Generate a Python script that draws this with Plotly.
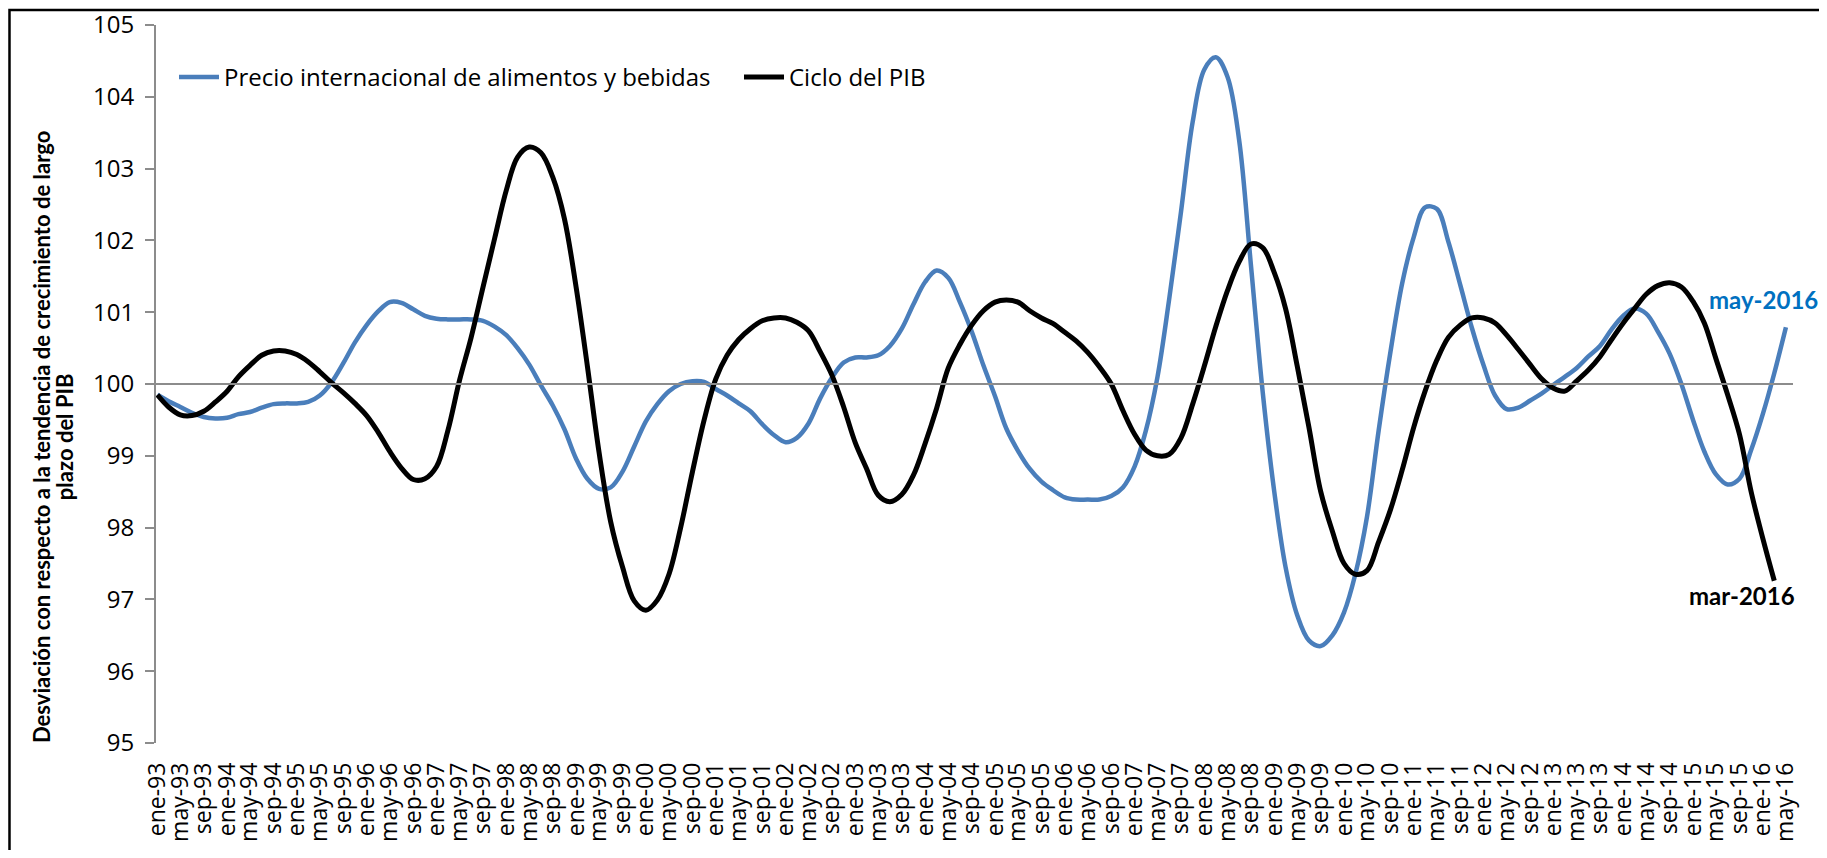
import pandas as pd
import plotly.graph_objects as go

# Fechas: una observación cada dos meses, de ene-93 a may-16
FECHAS = pd.date_range("1993-01-01", "2016-05-01", freq="2MS")

# Precio internacional de alimentos y bebidas (hasta may-2016)
PRECIO_ALIMENTOS = [
    99.85, 99.76, 99.68, 99.60, 99.54, 99.52, 99.53, 99.58, 99.61, 99.67,
    99.72, 99.73, 99.73, 99.75, 99.84, 100.02, 100.29, 100.58, 100.82, 101.01,
    101.14, 101.13, 101.04, 100.95, 100.91, 100.90, 100.90, 100.90, 100.88, 100.80,
    100.68, 100.50, 100.27, 99.98, 99.70, 99.37, 98.96, 98.68, 98.54, 98.56,
    98.78, 99.13, 99.48, 99.72, 99.90, 100.00, 100.04, 100.03, 99.93, 99.84,
    99.73, 99.62, 99.44, 99.29, 99.19, 99.25, 99.45, 99.80, 100.09, 100.30,
    100.37, 100.37, 100.40, 100.53, 100.77, 101.11, 101.42, 101.58, 101.48, 101.14,
    100.73, 100.26, 99.83, 99.38, 99.07, 98.82, 98.64, 98.52, 98.42, 98.39,
    98.39, 98.39, 98.44, 98.56, 98.85, 99.35, 100.10, 101.18, 102.40, 103.65,
    104.38, 104.55, 104.28, 103.40, 101.65, 99.90, 98.50, 97.45, 96.78, 96.43,
    96.35, 96.50, 96.82, 97.35, 98.15, 99.35, 100.45, 101.40, 102.05, 102.46,
    102.44, 101.98, 101.38, 100.78, 100.26, 99.84, 99.65, 99.67, 99.77, 99.87,
    99.99, 100.10, 100.22, 100.38, 100.53, 100.76, 100.95, 101.05, 100.98, 100.73,
    100.42, 100.00, 99.50, 99.06, 98.74, 98.60, 98.68, 99.08, 99.58, 100.15,
    100.79,
]

# Ciclo del PIB (hasta mar-2016)
CICLO_PIB = [
    99.85, 99.68, 99.57, 99.56, 99.62, 99.75, 99.90, 100.10, 100.26, 100.40,
    100.46, 100.46, 100.41, 100.31, 100.17, 100.02, 99.88, 99.73, 99.56, 99.33,
    99.06, 98.83, 98.67, 98.68, 98.85, 99.35, 100.05, 100.65, 101.35, 102.03,
    102.70, 103.16, 103.30, 103.22, 102.88, 102.30, 101.35, 100.25, 99.05, 98.08,
    97.45, 96.98, 96.85, 96.99, 97.35, 98.00, 98.78, 99.50, 100.07, 100.40,
    100.62, 100.77, 100.88, 100.92, 100.92, 100.86, 100.74, 100.45, 100.12, 99.68,
    99.18, 98.82, 98.45, 98.36, 98.46, 98.73, 99.17, 99.66, 100.22, 100.55,
    100.82, 101.02, 101.14, 101.17, 101.14, 101.02, 100.92, 100.84, 100.72, 100.60,
    100.44, 100.24, 100.00, 99.63, 99.30, 99.08, 99.00, 99.02, 99.25, 99.72,
    100.25, 100.80, 101.30, 101.70, 101.95, 101.90, 101.55, 101.05, 100.25, 99.40,
    98.50, 97.95, 97.50, 97.35, 97.40, 97.80, 98.25, 98.80, 99.40, 99.90,
    100.33, 100.65, 100.82, 100.92, 100.92, 100.85, 100.68, 100.48, 100.27, 100.07,
    99.94, 99.90, 100.04, 100.19, 100.38, 100.62, 100.85, 101.05, 101.25, 101.37,
    101.41, 101.35, 101.15, 100.85, 100.35, 99.85, 99.30, 98.50, 97.85, 97.26,
]

# Etiquetas del eje X: cada cuatro meses
MESES_ES = ["ene", "feb", "mar", "abr", "may", "jun", "jul", "ago", "sep", "oct", "nov", "dic"]
TICK_FECHAS = pd.date_range("1993-01-01", "2016-05-01", freq="4MS")
TICK_TEXTOS = [f"{MESES_ES[d.month - 1]}-{d.strftime('%y')}" for d in TICK_FECHAS]

COLOR_PRECIO = "#4A7EBB"
COLOR_PIB = "#000000"
GRIS_EJE = "#8C8C8C"

fig = go.Figure()
fig.add_trace(
    go.Scatter(
        x=FECHAS, y=PRECIO_ALIMENTOS, name="Precio internacional de alimentos y bebidas",
        mode="lines", line=dict(color=COLOR_PRECIO, width=4.5, shape="spline", smoothing=1.0),
    )
)
fig.add_trace(
    go.Scatter(
        x=FECHAS[: len(CICLO_PIB)], y=CICLO_PIB, name="Ciclo del PIB",
        mode="lines", line=dict(color=COLOR_PIB, width=5, shape="spline", smoothing=1.0),
    )
)
# traza vacía para que se dibuje el eje en y=100
fig.add_trace(go.Scatter(x=[], y=[], xaxis="x2", showlegend=False, hoverinfo="skip"))

rango_x = ["1992-12-25", "2016-06-07"]

fig.update_layout(
    width=1811,
    height=842,
    plot_bgcolor="white",
    paper_bgcolor="white",
    margin=dict(l=148, r=26, t=16.5, b=107, autoexpand=False),
    font=dict(family="Lato", color="black"),
    showlegend=True,
    legend=dict(
        orientation="h", x=0.011, y=0.927, xanchor="left", yanchor="middle",
        font=dict(size=24, family="Open Sans"), bgcolor="rgba(0,0,0,0)",
        itemwidth=40, tracegroupgap=0, entrywidth=510,
    ),
    xaxis=dict(
        range=rango_x, tickmode="array", tickvals=TICK_FECHAS, ticktext=TICK_TEXTOS,
        tickangle=-90, tickfont=dict(size=23, family="Open Sans"),
        showline=False, showgrid=False, zeroline=False, ticks="", ticklabelstandoff=14,
        ticklabeloverflow="allow", automargin=False,
    ),
    xaxis2=dict(
        range=rango_x, overlaying="x", anchor="free", position=0.5,
        tickmode="array", tickvals=TICK_FECHAS, showticklabels=False,
        showline=True, linecolor=GRIS_EJE, linewidth=2,
        ticks="outside", ticklen=6, tickwidth=2, tickcolor=GRIS_EJE,
        showgrid=False, zeroline=False, automargin=False,
    ),
    yaxis=dict(
        range=[95, 105], dtick=1, tick0=95, showgrid=False, zeroline=False,
        showline=True, linecolor=GRIS_EJE, linewidth=2,
        ticks="outside", ticklen=9, tickwidth=2, tickcolor=GRIS_EJE,
        tickfont=dict(size=24, family="Open Sans"), ticklabelstandoff=6,
        ticklabeloverflow="allow", automargin=False,
    ),
)

# Título del eje Y (dos líneas, negrita)
fig.add_annotation(
    text="Desviación con respecto a la tendencia de crecimiento de largo",
    xref="paper", yref="paper", x=-0.0703, y=0.426, xanchor="center", yanchor="middle",
    textangle=-90, showarrow=False,
    font=dict(size=22, family="Lato", color="black", weight="bold"),
)
fig.add_annotation(
    text="plazo del PIB",
    xref="paper", yref="paper", x=-0.0562, y=0.426, xanchor="center", yanchor="middle",
    textangle=-90, showarrow=False,
    font=dict(size=22, family="Lato", color="black", weight="bold"),
)

# Etiquetas del último dato
fig.add_annotation(
    text="<b>may-2016</b>", x="2015-03-13", y=101.17, xanchor="left", yanchor="middle",
    showarrow=False, font=dict(size=24, family="Lato", color="#0070C0"),
)
fig.add_annotation(
    text="<b>mar-2016</b>", x="2014-12-01", y=97.06, xanchor="left", yanchor="middle",
    showarrow=False, font=dict(size=24, family="Lato", color="black"),
)

# Borde del gráfico
fig.add_shape(
    type="rect", xref="paper", yref="paper",
    x0=-0.0895, x1=1.05, y0=-0.2, y1=1.021,
    line=dict(color="black", width=2.5), fillcolor="rgba(0,0,0,0)", layer="above",
)

fig.write_html("out.html")
